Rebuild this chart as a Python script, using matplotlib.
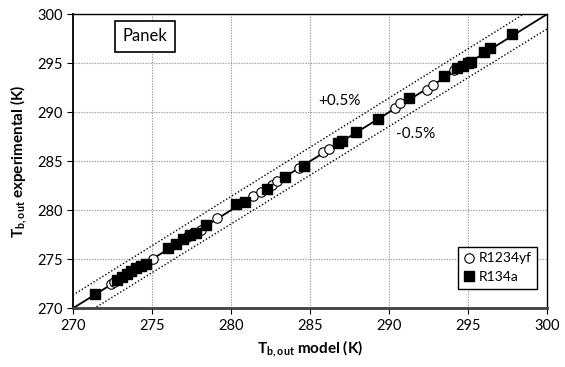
import numpy as np
import matplotlib
matplotlib.use("Agg")
import matplotlib.pyplot as plt

plt.rcParams['font.family'] = ['Lato', 'DejaVu Sans']
plt.rcParams['mathtext.fontset'] = 'custom'
plt.rcParams['mathtext.rm'] = 'Lato'
plt.rcParams['mathtext.bf'] = 'Lato:bold'

# data (model vs experimental outlet temperature, K)
r1234yf_model = [272.4, 272.6, 275.1, 277.2, 277.6, 278.1, 279.1, 281.4, 281.9, 282.6,
                 282.9, 284.3, 285.8, 286.2, 290.4, 290.7, 292.4, 292.8, 294.1]
r1234yf_exp = [272.5, 272.7, 275.0, 277.3, 277.7, 278.0, 279.2, 281.5, 281.9, 282.6,
               283.0, 284.3, 285.9, 286.3, 290.4, 290.9, 292.3, 292.8, 294.3]

r134a_model = [271.4, 272.8, 273.1, 273.4, 273.7, 274.0, 274.3, 274.6, 276.0, 276.5,
               277.0, 277.4, 277.8, 278.4, 280.3, 280.9, 282.3, 283.4, 284.6, 286.8,
               287.0, 287.9, 289.3, 291.3, 293.5, 294.3, 294.7, 295.0, 295.2, 296.0,
               296.4, 297.8]
r134a_exp = [271.5, 272.9, 273.2, 273.5, 273.8, 274.1, 274.3, 274.5, 276.2, 276.6,
             277.1, 277.5, 277.7, 278.5, 280.6, 280.8, 282.2, 283.4, 284.5, 286.9,
             287.1, 288.0, 289.3, 291.5, 293.7, 294.5, 294.7, 295.0, 295.1, 296.2,
             296.6, 298.0]

band = 0.005
lims = (270, 300)
ticks = [270, 275, 280, 285, 290, 295, 300]

fig = plt.figure(figsize=(5.65, 3.67), dpi=100)
ax = fig.add_axes([0.129, 0.16, 0.839, 0.801])

xl = np.array(lims, dtype=float)
ax.plot(xl, xl, color='black', lw=1.3, zorder=2)
ax.plot(xl, xl * (1 + band), color='black', lw=1.0, ls=(0, (1, 1.5)), zorder=2)
ax.plot(xl, xl * (1 - band), color='black', lw=1.0, ls=(0, (1, 1.5)), zorder=2)

ax.plot(r1234yf_model, r1234yf_exp, 'o', ms=6.8, mfc='white', mec='black', mew=0.8,
        label='R1234yf', zorder=3)
ax.plot(r134a_model, r134a_exp, 's', ms=7.2, mfc='black', mec='black',
        label='R134a', zorder=4)

ax.set_xlim(lims)
ax.set_ylim(lims)
ax.set_xticks(ticks)
ax.set_yticks(ticks)
ax.grid(True, color='#9a9a9a', ls=(0, (1.2, 1.2)), lw=0.8)
ax.set_axisbelow(True)
ax.tick_params(direction='out', length=4, width=0.8, labelsize=10.5, colors='black')

for s in ['top', 'right']:
    ax.spines[s].set_linewidth(1.0)
ax.spines['left'].set_linewidth(1.3)
ax.spines['bottom'].set_linewidth(2.0)
ax.spines['bottom'].set_color('#404040')

ax.set_xlabel(r'$\mathbf{T_{b,out}}$ model (K)', fontsize=11, fontweight='bold', labelpad=4)
ax.set_ylabel(r'$\mathbf{T_{b,out}}$ experimental (K)', fontsize=11, fontweight='bold', labelpad=6)

ax.text(0.152, 0.926, 'Panek', transform=ax.transAxes, ha='center', va='center', fontsize=12,
        bbox=dict(boxstyle='square,pad=0.45', fc='white', ec='black', lw=1.2))
ax.text(286.9, 291.2, '+0.5%', ha='center', va='center', fontsize=11)
ax.text(291.7, 287.8, '-0.5%', ha='center', va='center', fontsize=11)

leg = ax.legend(loc='lower right', bbox_to_anchor=(0.98, 0.066), fancybox=False,
                edgecolor='black', framealpha=1, fontsize=10, handlelength=0.8,
                handletextpad=0.3, borderpad=0.4, borderaxespad=0, labelspacing=0.5)
leg.get_frame().set_linewidth(1.0)

fig.savefig('out.png', dpi=100)
